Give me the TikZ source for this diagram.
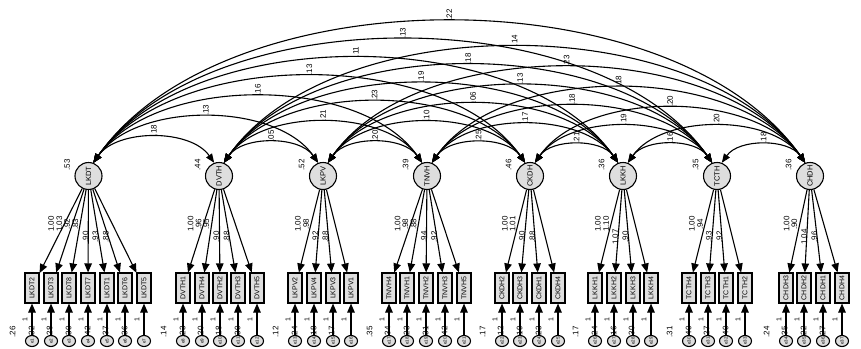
\documentclass[tikz,border=0pt]{standalone}
\usepackage{fontspec}
\setmainfont{Liberation Sans}
\usepackage{graphicx}
\usetikzlibrary{arrows.meta,shapes.geometric,calc}
\newcommand{\rt}[1]{\rotatebox{90}{#1}}
\tikzset{
 ln/.style={line width=1.1pt},
 arr/.style={ln, -{Triangle[length=9pt,width=7.5pt]}},
 cov/.style={ln, {Triangle[length=9pt,width=7pt]}-{Triangle[length=9pt,width=7pt]}},
 lat/.style={circle, draw, ln, fill=black!13, minimum size=27pt, inner sep=0pt, font=\fontsize{7.5}{8}\selectfont},
 obs/.style={rectangle, draw, ln, fill=black!13, minimum width=14pt, minimum height=30pt, inner sep=0pt, font=\fontsize{7}{8}\selectfont},
 err/.style={ellipse, draw, ln, fill=black!13, minimum width=13pt, minimum height=11pt, inner sep=0pt, font=\fontsize{4.5}{5}\selectfont},
 lbl/.style={inner sep=0.5pt, font=\fontsize{8}{9}\selectfont},
 one/.style={inner sep=0.5pt, font=\fontsize{7}{8}\selectfont},
}
\newcommand{\grp}[4]{%
  \node[lat] (#1) at (#2,176) {\rt{#1}};
  \node[lbl] (#1v) at ({#2-21.5},165) {\rt{#3}};
  \foreach \xb/\nm/\ld/\ev/\en in {#4} {
    \node[obs] (\nm) at (\xb,288) {\rt{\nm}};
    \node[err] (\en) at (\xb,341) {\rt{\en}};
    \draw[arr] (#1) -- (\nm);
    \draw[arr] (\en) -- (\nm);
    \pgfmathparse{(\xb<=#2+3)?0.43:0.545}\let\tpos\pgfmathresult
    \node[lbl] (L\nm) at ($(#1)!\tpos!(\nm)+(-13,0)$) {\rt{\ld}};
    \node[lbl] (V\en) at ({\xb-19.5},332) {\rt{\ev}};
    \node[one] (O\en) at ({\xb-7},320) {\rt{1}};
  }
}
\newcommand{\cv}[5]{%
  \pgfmathsetmacro{\arcH}{0.261*(#4-#3)}%
  \pgfmathsetmacro{\arcC}{0.7*\arcH}%
  \draw[cov] (#1.70) .. controls +(\arcC,-\arcH) and +(-\arcC,-\arcH) .. (#2.110)
    node[midway, lbl, anchor=south] (c#1#2) {\rt{#5}};
}
\begin{document}
\begin{tikzpicture}[x=1pt,y=-1pt]
\useasboundingbox (0,0) rectangle (861,348);
\grp{LKDT}{88.5}{.53}{32/LKDT2/1.00/.26/e1, 51/LKDT3/1.03/.32/e2, 69/LKDT8/.92/.28/e3, 88/LKDT7/.83/.30/e4, 107/LKDT1/.90/.42/e5, 125/LKDT6/.93/.37/e6, 144/LKDT5/.88/.36/e7}
\grp{DVTH}{219}{.44}{183/DVTH1/1.00/.14/e8, 202/DVTH4/.96/.23/e9, 220/DVTH2/.95/.20/e10, 238/DVTH3/.90/.18/e11, 257/DVTH5/.88/.30/e12}
\grp{LKPV}{323}{.52}{295/LKPV2/1.00/.12/e13, 314/LKPV4/.98/.24/e14, 333/LKPV3/.92/.18/e15, 351/LKPV1/.88/.17/e16}
\grp{TNVH}{427}{.39}{389/TNVH4/1.00/.35/e17, 407/TNVH1/.98/.34/e18, 426/TNVH2/.88/.23/e19, 445/TNVH3/.94/.31/e20, 464/TNVH5/.92/.42/e21}
\grp{CKDH}{530}{.46}{502/CKDH2/1.00/.17/e22, 520/CKDH3/1.01/.12/e23, 539/CKDH1/.90/.19/e24, 558/CKDH4/.88/.23/e25}
\grp{LKKH}{623}{.36}{595/LKKH1/1.00/.17/e26, 614/LKKH2/1.10/.24/e27, 633/LKKH3/1.07/.16/e28, 651/LKKH4/.90/.30/e29}
\grp{TCTH}{717}{.35}{689/TCTH4/1.00/.31/e30, 708/TCTH3/.94/.40/e31, 726/TCTH1/.93/.27/e32, 745/TCTH2/.92/.40/e33}
\grp{CHDH}{810}{.36}{786/CHDH3/1.00/.24/e34, 804/CHDH2/.90/.35/e35, 823/CHDH1/1.04/.22/e36, 842/CHDH4/.96/.27/e37}
% span 1
\cv{LKDT}{DVTH}{88.5}{219}{.18}
\cv{DVTH}{LKPV}{219}{323}{.05}
\cv{LKPV}{TNVH}{323}{427}{.20}
\cv{TNVH}{CKDH}{427}{530}{.25}
\cv{CKDH}{LKKH}{530}{623}{.21}
\cv{LKKH}{TCTH}{623}{717}{.16}
\cv{TCTH}{CHDH}{717}{810}{.18}
% span 2
\cv{LKDT}{LKPV}{88.5}{323}{.13}
\cv{DVTH}{TNVH}{219}{427}{.21}
\cv{LKPV}{CKDH}{323}{530}{.10}
\cv{TNVH}{LKKH}{427}{623}{.17}
\cv{CKDH}{TCTH}{530}{717}{.19}
\cv{LKKH}{CHDH}{623}{810}{.20}
% span 3
\cv{LKDT}{TNVH}{88.5}{427}{.16}
\cv{DVTH}{CKDH}{219}{530}{.23}
\cv{LKPV}{LKKH}{323}{623}{.06}
\cv{TNVH}{TCTH}{427}{717}{.18}
\cv{CKDH}{CHDH}{530}{810}{.20}
% span 4
\cv{LKDT}{CKDH}{88.5}{530}{.13}
\cv{DVTH}{LKKH}{219}{623}{.19}
\cv{LKPV}{TCTH}{323}{717}{.13}
\cv{TNVH}{CHDH}{427}{810}{.18}
% span 5
\cv{LKDT}{LKKH}{88.5}{623}{.11}
\cv{DVTH}{TCTH}{219}{717}{.18}
\cv{LKPV}{CHDH}{323}{810}{.23}
% span 6
\cv{LKDT}{TCTH}{88.5}{717}{.13}
\cv{DVTH}{CHDH}{219}{810}{.14}
% span 7
\cv{LKDT}{CHDH}{88.5}{810}{.22}
\end{tikzpicture}
\end{document}
